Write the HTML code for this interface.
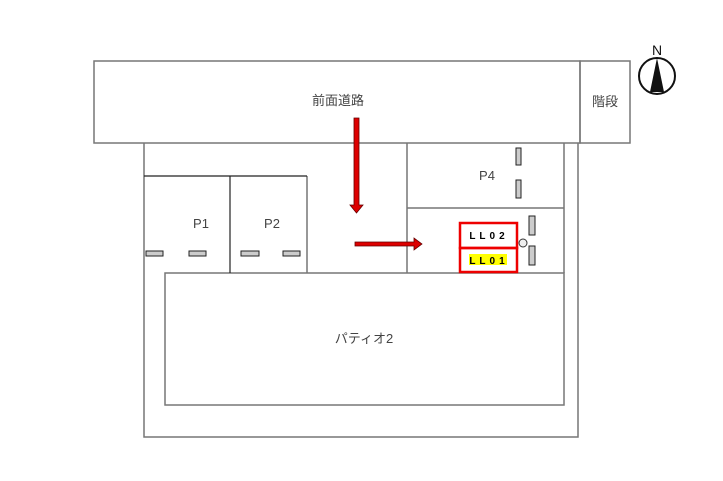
<!DOCTYPE html>
<html><head><style>body{margin:0;background:#fff}svg{display:block}text{font-family:"Liberation Sans","Noto Sans CJK JP",sans-serif}</style></head><body>
<svg width="723" height="481" viewBox="0 0 723 481" xmlns="http://www.w3.org/2000/svg">
<g fill="none" stroke="#777" stroke-width="1.5">
<rect x="94" y="61" width="486" height="82"/>
<rect x="580" y="61" width="50" height="82"/>
<path d="M144 143V437H578V143"/>
<rect x="165" y="273" width="399" height="132"/>
<path d="M407 143V273M564 143V273M407 208H564M307 176V273"/>
</g>
<path d="M144 176H307M230 176V273" stroke="#222" stroke-width="1.2"/>
<g fill="#ccc" stroke="#222" stroke-width="1">
<rect x="146" y="251" width="17" height="5"/><rect x="189" y="251" width="17" height="5"/>
<rect x="241" y="251" width="18" height="5"/><rect x="283" y="251" width="17" height="5"/>
<rect x="516" y="148" width="5" height="17"/><rect x="516" y="180" width="5" height="18"/>
<rect x="529" y="216" width="6" height="19"/><rect x="529" y="246" width="6" height="19"/>
</g>
<circle cx="523" cy="243" r="4" fill="#eee" stroke="#333"/>
<rect x="460" y="223" width="57" height="25" fill="none" stroke="#e00" stroke-width="2.5"/>
<rect x="460" y="248" width="57" height="24" fill="none" stroke="#e00" stroke-width="2.5"/>
<rect x="469" y="254" width="38" height="11" fill="#ff0"/>
<text x="489" y="239" font-size="10" font-weight="bold" text-anchor="middle" letter-spacing="4">LL02</text>
<text x="489" y="264" font-size="10" font-weight="bold" text-anchor="middle" letter-spacing="4">LL01</text>
<g fill="#d00" stroke="#600" stroke-width="0.8">
<path d="M354 118H359V205H363L356.5 213L350 205H354Z"/>
<path d="M355 242H414V238L422 244L414 250V246H355Z"/>
</g>
<g fill="#444" font-size="13" text-anchor="middle">
<text x="338" y="105">前面道路</text>
<text x="605" y="106">階段</text>
<text x="201" y="228">P1</text>
<text x="272" y="228">P2</text>
<text x="487" y="180">P4</text>
<text x="364" y="343">パティオ2</text>
</g>
<circle cx="657" cy="76" r="18" fill="none" stroke="#111" stroke-width="2"/>
<path d="M657 58L650 92H664Z" fill="#111"/>
<text x="657" y="55" font-size="14" text-anchor="middle" fill="#111">N</text>
</svg>
</body></html>
